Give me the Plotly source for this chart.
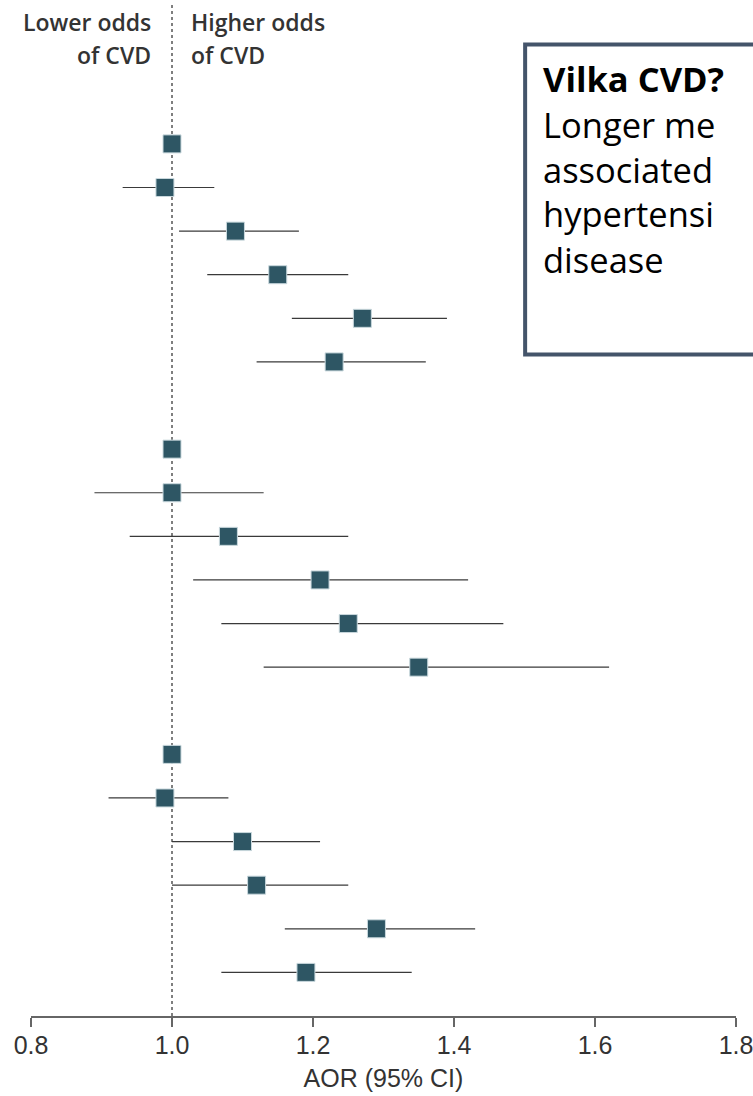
import plotly.graph_objects as go

# Data: adjusted odds ratios (AOR) with 95% CI, three groups of six rows
group1_aor = [1.00, 0.99, 1.09, 1.15, 1.27, 1.23]
group1_lo = [None, 0.93, 1.01, 1.05, 1.17, 1.12]
group1_hi = [None, 1.06, 1.18, 1.25, 1.39, 1.36]

group2_aor = [1.00, 1.00, 1.08, 1.21, 1.25, 1.35]
group2_lo = [None, 0.89, 0.94, 1.03, 1.07, 1.13]
group2_hi = [None, 1.13, 1.25, 1.42, 1.47, 1.62]

group3_aor = [1.00, 0.99, 1.10, 1.12, 1.29, 1.19]
group3_lo = [None, 0.91, 1.00, 1.00, 1.16, 1.07]
group3_hi = [None, 1.08, 1.21, 1.25, 1.43, 1.34]

tick_vals = [0.8, 1.0, 1.2, 1.4, 1.6, 1.8]
tick_text = ["0.8", "1.0", "1.2", "1.4", "1.6", "1.8"]

header_left = ["Lower odds", "of CVD"]
header_right = ["Higher odds", "of CVD"]
box_lines = ["<b>Vilka CVD?</b>", "Longer me", "associated", "hypertensi", "disease"]

groups = [(group1_aor, group1_lo, group1_hi),
          (group2_aor, group2_lo, group2_hi),
          (group3_aor, group3_lo, group3_hi)]

xs, ys, plus, minus = [], [], [], []
for g, (aor, lo, hi) in enumerate(groups):
    for i, (a, l, h) in enumerate(zip(aor, lo, hi)):
        xs.append(a)
        ys.append(-(g * 7 + i))
        plus.append(0 if h is None else h - a)
        minus.append(0 if l is None else a - l)

FONT = "Liberation Sans"
PLOT_H = 1016.0  # plot area height in px (t=0)


def py(px):
    """pixel offset from top of plot area -> paper y"""
    return 1 - px / PLOT_H


fig = go.Figure()
fig.add_trace(go.Scatter(
    x=xs, y=ys, mode="markers",
    marker=dict(symbol="square", size=18, color="#2e5664",
                line=dict(color="#c9d8dd", width=1)),
    error_x=dict(type="data", symmetric=False, array=plus, arrayminus=minus,
                 color="#3a3a3a", thickness=1.2, width=0),
    showlegend=False, hoverinfo="skip",
))

# reference line at AOR = 1
fig.add_shape(type="line", xref="x", yref="paper", x0=1.0, x1=1.0, y0=0, y1=py(5),
              line=dict(color="#555555", width=1.5, dash="dot"), layer="below")

# callout box
fig.add_shape(type="rect", xref="paper", yref="paper", x0=0.7009, x1=1.1,
              y0=py(354.5), y1=py(44.5), line=dict(color="#44546a", width=4),
              fillcolor="white", layer="above")

for k, line in enumerate(box_lines):
    fig.add_annotation(xref="paper", yref="paper", x=0.725, y=py(79 + 45 * k),
                       xanchor="left", yanchor="middle", align="left",
                       showarrow=False, text=line, borderpad=0,
                       font=dict(family="Open Sans", size=34.5, color="#000000"))

hdr_font = dict(family="Open Sans", size=23, color="#333333", weight=600)
for k, line in enumerate(header_left):
    fig.add_annotation(xref="x", yref="paper", x=0.9715, y=py(22 + 33 * k),
                       xanchor="right", yanchor="middle", align="right",
                       showarrow=False, text=line, font=hdr_font, borderpad=0)
for k, line in enumerate(header_right):
    fig.add_annotation(xref="x", yref="paper", x=1.0254, y=py(22 + 33 * k),
                       xanchor="left", yanchor="middle", align="left",
                       showarrow=False, text=line, font=hdr_font, borderpad=0)

fig.update_layout(
    width=753, height=1096,
    margin=dict(l=31, r=16.5, t=0, b=80, autoexpand=False),
    paper_bgcolor="white", plot_bgcolor="white",
    xaxis=dict(range=[0.8, 1.8], tickvals=tick_vals, ticktext=tick_text,
               showgrid=False, zeroline=False, showline=True, linecolor="#666666",
               linewidth=1.5, ticks="outside", ticklen=9, tickwidth=1.5,
               tickcolor="#666666", automargin=False, ticklabeloverflow="allow",
               ticklabelstandoff=-3,
               tickfont=dict(family=FONT, size=25, color="#333333"),
               title=dict(text="AOR (95% CI)", standoff=12,
                          font=dict(family=FONT, size=25, color="#333333"))),
    yaxis=dict(range=[-20, 3.3], visible=False, showgrid=False, zeroline=False),
)

fig.write_html("out.html", config={"displayModeBar": False},
               post_script="document.body.style.margin='0';document.body.style.overflow='hidden';")
